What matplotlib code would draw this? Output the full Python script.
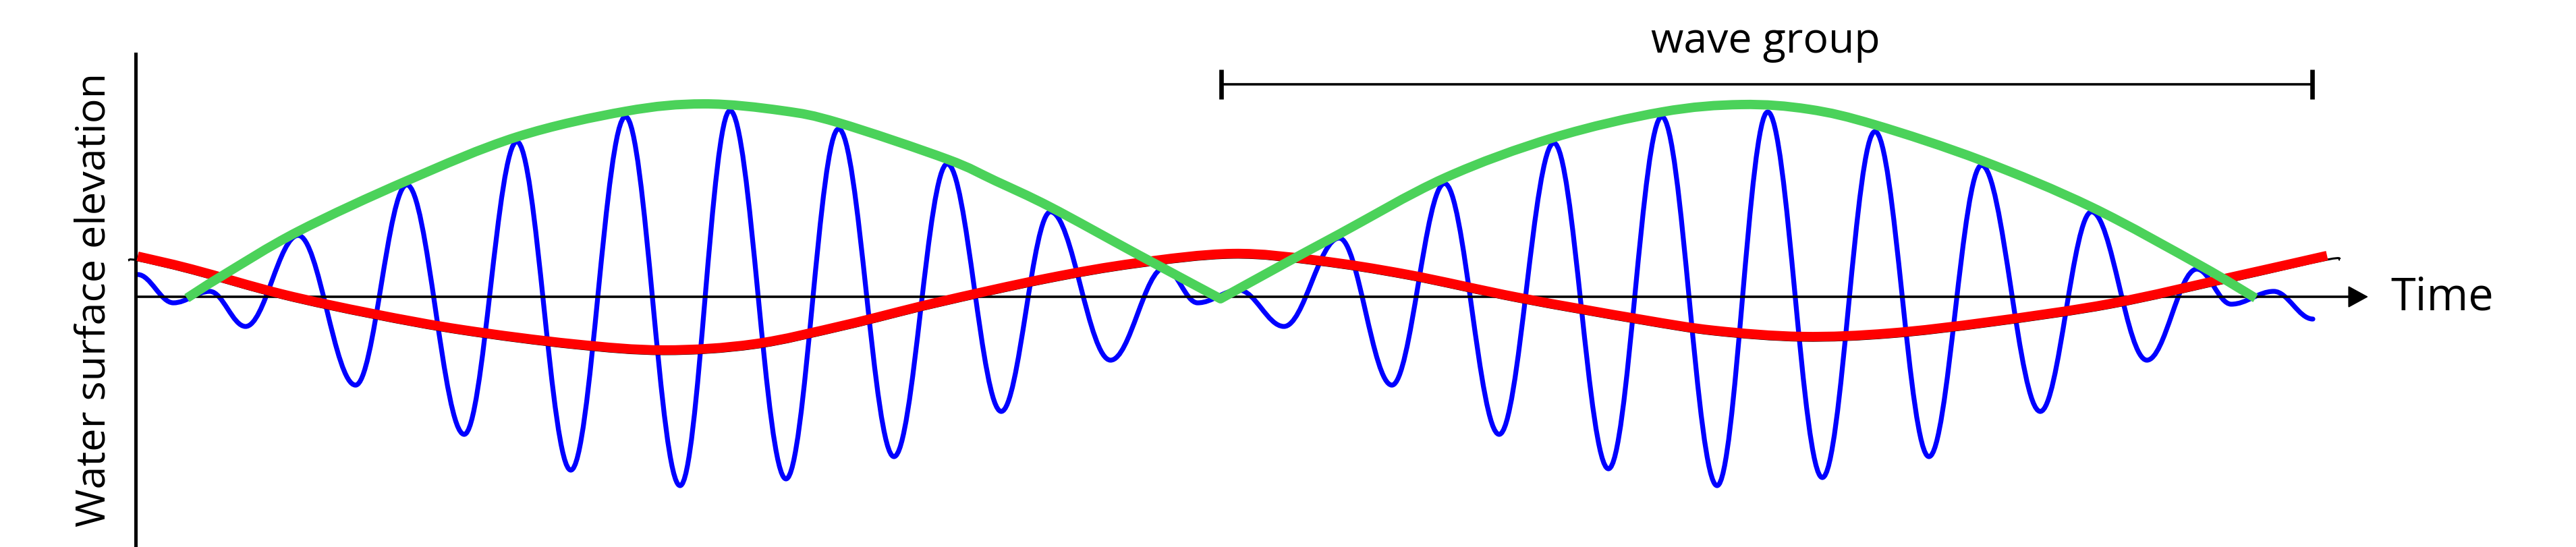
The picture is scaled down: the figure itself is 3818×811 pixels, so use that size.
import matplotlib
matplotlib.use("Agg")
import matplotlib.pyplot as plt
import matplotlib.transforms as mtransforms
from matplotlib.path import Path
from matplotlib.patches import PathPatch
import numpy as np

plt.rcParams['font.family'] = ['Open Sans', 'DejaVu Sans']

# ---------------- data (time from the vertical axis, elevation above the still-water line) ----------------
# short-wave carrier: successive crests / troughs
carrier_t = [3, 56, 110, 163, 241, 326, 402, 487, 565, 645, 726, 807, 881, 964, 1042, 1124,
             1203, 1283, 1356, 1445, 1525, 1574, 1635, 1702, 1784, 1862, 1940, 2021, 2102,
             2183, 2262, 2344, 2419, 2500, 2578, 2658, 2736, 2823, 2899, 2981, 3055, 3106,
             3169, 3227]
carrier_eta = [33, -9, 8, -44, 91, -131, 166, -204, 230, -257, 267, -280, 276, -270, 249, -237,
               197, -170, 126, -94, 43, -9, 10, -44, 87, -131, 168, -204, 228,
               -255, 267, -280, 274, -268, 245, -237, 195, -170, 126, -94, 41, -11,
               8, -33]

# wave-group envelope, two lobes
envelope1_t = [76, 128, 241, 402, 565, 726, 842, 958, 1042, 1203, 1274, 1356, 1483, 1608]
envelope1_eta = [-2, 31, 97, 172, 237, 275, 286, 276, 258, 204, 172, 133, 64, -3]
envelope2_t = [1608, 1697, 1784, 1940, 2102, 2262, 2380, 2480, 2578, 2736, 2899, 3061, 3142]
envelope2_eta = [-3, 46, 93, 176, 236, 274, 285, 278, 255, 202, 133, 46, -2]

# bound long wave
longwave_t = [3, 83, 217, 351, 485, 649, 783, 917, 1051, 1185, 1349, 1483, 1626, 1751,
              1885, 2049, 2228, 2340, 2470, 2600, 2749, 2928, 3106, 3248]
longwave_eta = [60, 41, 4, -25, -49, -70, -79, -70, -42, -9, 27, 50, 64, 54,
                33, -1, -33, -50, -59, -54, -37, -10, 29, 61]

# thin black trace lying under the long wave (slightly longer at both ends)
trace_t = [-11] + longwave_t + [3267]
trace_eta = [60] + longwave_eta + [61]

# wave-group length marker
group_start, group_end = 1609, 3226
group_level = 315

y_label = "Water surface elevation"
x_label = "Time"
group_label = "wave group"

# ---------------- helpers (drawing only) ----------------
def carrier_path(t, y, a=0.3634):
    verts = [(t[0], y[0])]
    codes = [Path.MOVETO]
    for i in range(len(t) - 1):
        d = t[i + 1] - t[i]
        verts += [(t[i] + a * d, y[i]), (t[i + 1] - a * d, y[i + 1]), (t[i + 1], y[i + 1])]
        codes += [Path.CURVE4] * 3
    return verts, codes


def smooth_segments(t, y):
    P = np.column_stack([t, y]).astype(float)
    Pe = np.vstack([P[0], P, P[-1]])
    verts, codes = [], []
    for i in range(len(P) - 1):
        p0, p1, p2, p3 = Pe[i], Pe[i + 1], Pe[i + 2], Pe[i + 3]
        c1 = p1 + (p2 - p0) / 6.0
        c2 = p2 - (p3 - p1) / 6.0
        verts += [tuple(c1), tuple(c2), tuple(p2)]
        codes += [Path.CURVE4] * 3
    return verts, codes


def smooth_path(t, y):
    v, c = smooth_segments(t, y)
    return Path([(t[0], y[0])] + v, [Path.MOVETO] + c)


# ---------------- figure ----------------
fig = plt.figure(figsize=(38.18, 8.11), dpi=100)
ax = fig.add_axes([0, 0, 1, 1])
ax.set_xlim(-201, 3617)
ax.set_ylim(-371, 440)
ax.set_xticks([])
ax.set_yticks([])
ax.patch.set_alpha(0)
for s in ['top', 'right']:
    ax.spines[s].set_visible(False)
ax.spines['left'].set_position(('data', 0))
ax.spines['left'].set_bounds(-371, 360)
ax.spines['left'].set_linewidth(3.6)
ax.spines['left'].set_zorder(3)
ax.spines['bottom'].set_position(('data', 0))
ax.spines['bottom'].set_bounds(0, 3285)
ax.spines['bottom'].set_linewidth(2.6)
ax.spines['bottom'].set_zorder(3)

# arrow head on the time axis
ax.annotate('', xy=(3309, 0), xytext=(3275, 0),
            arrowprops=dict(arrowstyle='-|>,head_length=0.95,head_width=0.52',
                            mutation_scale=20, lw=1.5, color='black',
                            shrinkA=0, shrinkB=0), zorder=3)

# carrier
v, c = carrier_path(carrier_t, carrier_eta)
ax.add_patch(PathPatch(Path(v, c), fill=False, edgecolor='#0000FF', lw=5.2,
                       capstyle='round', joinstyle='round', zorder=2))

# black trace under the long wave
off = mtransforms.offset_copy(ax.transData, fig=fig, x=0, y=-6, units='dots')
ax.add_patch(PathPatch(smooth_path(trace_t, trace_eta), fill=False, edgecolor='black',
                       lw=2.2, transform=off, zorder=4))

# long wave
ax.add_patch(PathPatch(smooth_path(longwave_t, longwave_eta), fill=False,
                       edgecolor='#FF0000', lw=10.2, capstyle='butt', zorder=5))

# envelope: both lobes in one path so the node is a joined corner
v1, c1 = smooth_segments(envelope1_t, envelope1_eta)
v2, c2 = smooth_segments(envelope2_t, envelope2_eta)
env = Path([(envelope1_t[0], envelope1_eta[0])] + v1 + v2, [Path.MOVETO] + c1 + c2)
ax.add_patch(PathPatch(env, fill=False, edgecolor='#4BD25A', lw=10.0,
                       capstyle='butt', joinstyle='round', zorder=6))

# wave-group marker
ax.hlines(group_level, group_start, group_end, color='black', lw=2.6, zorder=3)
ax.vlines([group_start, group_end], group_level - 22, group_level + 22,
          color='black', lw=4.8, zorder=3)
ax.text((group_start + group_end) / 2 - 2, 362, group_label, ha='center', va='baseline',
        fontsize=45, color='black')

# labels
ax.text(3342, -20, x_label, ha='left', va='baseline', fontsize=48, color='black')
ax.text(-46, -4, y_label, rotation=90, rotation_mode='anchor', ha='center',
        va='baseline', fontsize=44, color='black')

fig.savefig('out.png', dpi=100, facecolor='white')
